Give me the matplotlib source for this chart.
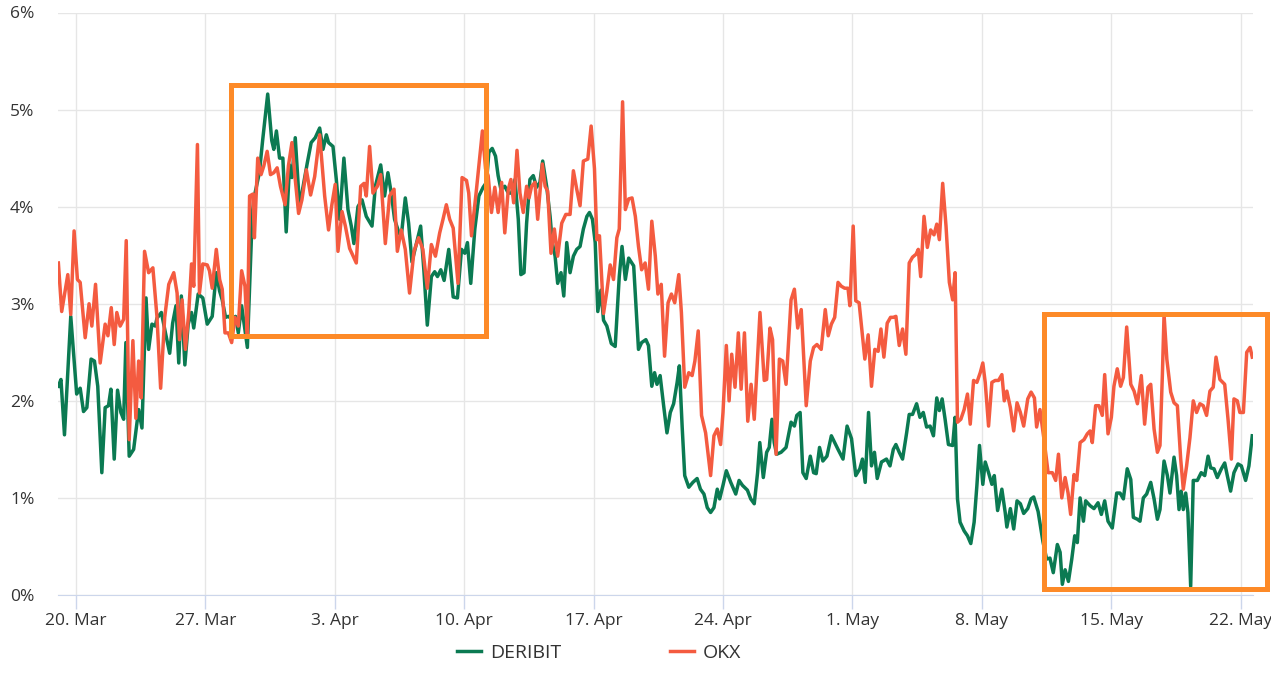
import matplotlib
matplotlib.use("Agg")
import matplotlib.pyplot as plt
from matplotlib.patches import Rectangle

plt.rcParams['font.family'] = ['Open Sans', 'DejaVu Sans']

# x = days since 20 Mar, y = value in %
deribit_day = [
    -0.94, -0.8, -0.61, -0.27, 0.05, 0.24, 0.42, 0.6, 0.83, 1.01, 1.19, 1.41, 1.59, 1.77, 1.9,
    2.08, 2.26, 2.44, 2.59, 2.71, 2.89, 3.13, 3.4, 3.58, 3.8, 3.94, 4.12, 4.3, 4.39, 4.63,
    4.85, 5.08, 5.24, 5.42, 5.57, 5.71, 5.9, 6.08, 6.26, 6.38, 6.62, 6.87, 7.11, 7.38, 7.6,
    7.78, 7.92, 8.1, 8.25, 8.46, 8.64, 8.79, 8.97, 9.28, 9.55,
    9.66, 9.93, 10.11, 10.38, 10.6, 10.71, 10.85, 11.02, 11.2, 11.38, 11.56, 11.69, 11.87, 12.1,
    12.34, 12.52, 12.73, 12.95, 13.19, 13.37, 13.55, 13.67, 13.91, 14.09, 14.27, 14.5, 14.72,
    14.9, 15.04, 15.26, 15.48, 15.71, 16.02, 16.2, 16.49, 16.7, 16.88, 17.06, 17.24, 17.46,
    17.6, 17.82, 18.0, 18.18, 18.42, 18.65, 18.83, 19.01, 19.23, 19.41, 19.56, 19.74, 19.92,
    20.17, 20.41,
    20.64, 20.86, 21.04, 21.18, 21.36, 21.58, 21.8, 22.03, 22.21, 22.34, 22.52, 22.7, 22.84,
    22.99, 23.2, 23.39, 23.57, 23.75, 23.93, 24.07, 24.24, 24.38, 24.56, 24.74, 24.92, 25.1,
    25.25, 25.47, 25.65, 25.77, 25.92, 26.06, 26.24, 26.39, 26.55, 26.73, 26.91, 27.09, 27.27,
    27.45, 27.64, 27.78, 27.94, 28.09, 28.23, 28.4, 28.54, 28.72, 28.96, 29.17, 29.39, 29.54,
    29.72, 29.9, 30.17,
    30.43, 30.6, 30.83, 30.97, 31.15, 31.3, 31.43, 31.6, 31.79, 31.97, 32.15, 32.33, 32.52,
    32.64, 32.79, 32.93, 33.15, 33.37, 33.6, 33.78, 33.97, 34.15, 34.33, 34.51, 34.69, 34.82,
    35.0, 35.18, 35.42, 35.69, 35.87, 36.05, 36.32, 36.5, 36.69, 36.87, 36.99, 37.18, 37.36,
    37.5, 37.65, 37.77, 37.9, 38.14, 38.41, 38.68, 38.86, 38.99, 39.17, 39.32, 39.5, 39.72,
    39.9, 40.04, 40.22, 40.4, 40.62, 40.86, 41.04, 41.22,
    41.49, 41.71, 41.95, 42.18, 42.4, 42.54, 42.69, 42.87, 43.03, 43.19, 43.34, 43.57, 43.84,
    44.03, 44.21, 44.35, 44.53, 44.71, 44.93, 45.07, 45.25, 45.47, 45.65, 45.83, 46.01, 46.2,
    46.38, 46.56, 46.7, 46.85, 47.01, 47.19, 47.42, 47.55, 47.68, 47.82, 48.04, 48.22, 48.4,
    48.58, 48.73, 48.87, 49.05, 49.18, 49.36, 49.54, 49.67, 49.85, 50.08, 50.26, 50.35, 50.54,
    50.72, 50.9, 51.08, 51.26, 51.48, 51.66, 51.8,
    52.04, 52.3, 52.5, 52.68, 52.86, 53.08, 53.23, 53.35, 53.5, 53.68, 53.86, 54.02, 54.16,
    54.31, 54.49, 54.61, 54.85, 55.06, 55.28, 55.46, 55.64, 55.82, 56.05, 56.29, 56.47, 56.65,
    56.86, 57.05, 57.19, 57.41, 57.55, 57.73, 57.91, 58.13, 58.31, 58.49, 58.63, 58.85, 59.03,
    59.17, 59.39, 59.53, 59.66, 59.78, 59.89, 60.02, 60.14, 60.29, 60.43, 60.65, 60.86, 61.05,
    61.23, 61.37, 61.55, 61.73, 61.95, 62.13, 62.27, 62.45, 62.63, 62.85, 63.03, 63.26, 63.44,
    63.62,
]
deribit_pct = [
    2.15, 2.22, 1.65, 2.87, 2.07, 2.13, 1.89, 1.93, 2.43, 2.41, 2.15, 1.26, 1.93, 1.95, 2.12,
    1.40, 2.11, 1.88, 1.81, 2.60, 1.43, 1.50, 1.91, 1.72, 3.06, 2.53, 2.79, 2.77, 2.85, 2.91,
    2.70, 2.49, 2.80, 2.98, 2.39, 3.08, 2.37, 2.79, 2.91, 2.75, 3.10, 3.06, 2.79, 2.87, 3.32,
    3.13, 3.04, 2.86, 2.87, 2.84, 2.87, 2.70, 2.98, 2.55, 3.94,
    4.11, 4.35, 4.69, 5.16, 4.68, 4.59, 4.78, 4.50, 4.50, 3.74, 4.43, 4.30, 4.71, 4.00,
    4.26, 4.45, 4.66, 4.71, 4.81, 4.59, 4.74, 4.66, 4.62, 4.28, 3.87, 4.50, 3.97,
    3.80, 3.62, 4.00, 4.07, 3.90, 3.80, 4.21, 4.43, 4.11, 4.35, 4.14, 3.87, 3.74,
    3.69, 4.09, 3.83, 3.43, 3.62, 3.80, 3.33, 2.78, 3.28, 3.33, 3.28, 3.35, 3.24,
    3.56, 3.07,
    3.06, 3.56, 3.52, 3.63, 3.21, 3.77, 4.11, 4.20, 4.25, 4.56, 4.60, 4.52, 4.32,
    4.18, 4.21, 4.14, 4.14, 4.28, 3.87, 3.30, 3.32, 3.83, 4.28, 4.32, 4.20, 4.25,
    4.47, 4.20, 3.90, 3.63, 3.49, 3.21, 3.32, 3.08, 3.63, 3.32, 3.49, 3.56, 3.59,
    3.77, 3.90, 3.94, 3.87, 3.63, 2.92, 3.14, 2.83, 2.77, 2.59, 2.56, 3.28, 3.59,
    3.25, 3.47, 3.39,
    2.53, 2.60, 2.63, 2.57, 2.15, 2.29, 2.17, 2.26, 1.95, 1.67, 1.88, 1.97, 2.19,
    2.36, 1.74, 1.23, 1.11, 1.16, 1.20, 1.09, 1.04, 0.90, 0.85, 0.90, 1.09, 0.99,
    1.13, 1.28, 1.16, 1.04, 1.18, 1.13, 1.08, 0.99, 0.94, 1.26, 1.57, 1.21, 1.47,
    1.52, 1.81, 1.57, 1.45, 1.47, 1.52, 1.78, 1.74, 1.85, 1.88, 1.26, 1.20, 1.43,
    1.26, 1.25, 1.52, 1.38, 1.43, 1.64, 1.57, 1.50,
    1.40, 1.74, 1.61, 1.23, 1.30, 1.40, 1.16, 1.88, 1.33, 1.47, 1.20, 1.37, 1.40,
    1.33, 1.50, 1.55, 1.47, 1.40, 1.67, 1.86, 1.86, 1.97, 1.83, 1.88, 1.73, 1.74,
    1.64, 2.03, 1.90, 2.02, 1.81, 1.55, 1.54, 1.83, 0.99, 0.75, 0.66, 0.61, 0.53,
    0.75, 1.13, 1.54, 1.14, 1.37, 1.26, 1.14, 1.23, 0.87, 1.09, 0.85, 0.70, 0.89,
    0.68, 0.97, 0.94, 0.84, 0.89, 0.99, 1.01,
    0.86, 0.55, 0.37, 0.38, 0.23, 0.52, 0.44, 0.11, 0.26, 0.14, 0.37, 0.61, 0.54,
    1.00, 0.76, 0.97, 0.92, 0.89, 0.95, 0.83, 0.97, 0.76, 0.69, 1.05, 1.05, 0.99,
    1.30, 1.19, 0.80, 0.78, 0.76, 1.00, 1.04, 1.16, 0.99, 0.78, 0.88, 1.38, 1.23,
    1.05, 1.42, 1.23, 0.88, 1.07, 0.88, 1.05, 0.85, 0.09, 1.18, 1.18, 1.26, 1.23,
    1.43, 1.31, 1.30, 1.21, 1.30, 1.36, 1.23, 1.07, 1.26, 1.35, 1.33, 1.18, 1.33,
    1.64,
]

okx_day = [
    -0.94, -0.76, -0.43, -0.27, -0.09, 0.09, 0.24, 0.51, 0.72, 0.87, 1.07, 1.32, 1.59, 1.74,
    1.92, 2.08, 2.22, 2.4, 2.59, 2.73, 2.89, 3.09, 3.25, 3.4, 3.54, 3.72, 3.94, 4.17, 4.39,
    4.59, 4.81, 5.03, 5.3, 5.48, 5.61, 5.75, 5.93, 6.11, 6.26, 6.38, 6.58, 6.69, 6.87, 7.11,
    7.23, 7.38, 7.6, 7.78, 7.92, 8.07, 8.25, 8.43, 8.61, 8.79, 8.97, 9.15, 9.28, 9.4, 9.58,
    9.66, 9.84, 10.02, 10.17, 10.35, 10.53, 10.71, 10.89, 11.07, 11.32, 11.5, 11.69, 11.87,
    12.05, 12.23, 12.47, 12.7, 12.92, 13.19, 13.46, 13.67, 13.85, 14.03, 14.18, 14.4, 14.58,
    14.81, 15.17, 15.41, 15.59, 15.71, 15.89, 16.07, 16.31, 16.49, 16.74, 16.97, 17.21, 17.39,
    17.6, 17.82, 18.05, 18.29, 18.54, 18.77, 19.01, 19.23, 19.45, 19.68, 19.86, 20.04, 20.22,
    20.41,
    20.67, 20.89, 21.13, 21.25, 21.4, 21.67, 21.85, 21.99, 22.16, 22.3, 22.48, 22.66, 22.84,
    23.03, 23.2, 23.39, 23.53, 23.68, 23.86, 24.02, 24.2, 24.38, 24.51, 24.65, 24.83, 24.98,
    25.23, 25.38, 25.52, 25.7, 25.88, 26.06, 26.28, 26.5, 26.73, 26.91, 27.09, 27.27, 27.45,
    27.69, 27.87, 28.05, 28.18, 28.32, 28.54, 28.72, 28.9, 29.08, 29.26, 29.39, 29.57, 29.72,
    29.9, 30.08, 30.26,
    30.43, 30.6, 30.79, 30.97, 31.15, 31.34, 31.48, 31.66, 31.84, 32.03, 32.21, 32.39, 32.61,
    32.75, 32.93, 33.15, 33.33, 33.48, 33.66, 33.84, 34.06, 34.33, 34.51, 34.69, 34.87, 35.0,
    35.18, 35.33, 35.47, 35.65, 35.83, 35.98, 36.16, 36.34, 36.52, 36.69, 37.0, 37.23, 37.36,
    37.54, 37.68, 37.87, 38.05, 38.23, 38.41, 38.68, 38.86, 39.04, 39.23, 39.5, 39.72, 39.9,
    40.08, 40.31, 40.53, 40.69, 40.86, 41.04, 41.22,
    41.4, 41.58, 41.76, 41.86, 42.04, 42.18, 42.36, 42.49, 42.67, 42.85, 43.03, 43.21, 43.39,
    43.54, 43.7, 43.88, 44.06, 44.21, 44.35, 44.53, 44.71, 44.89, 45.07, 45.25, 45.44, 45.56,
    45.69, 45.87, 46.05, 46.23, 46.41, 46.56, 46.7, 46.88, 47.06, 47.24, 47.42, 47.55, 47.68,
    47.86, 48.04, 48.22, 48.37, 48.55, 48.73, 48.91, 49.05, 49.18, 49.36, 49.54, 49.72, 49.9,
    50.08, 50.21, 50.35, 50.54, 50.72, 50.9, 51.08, 51.26, 51.48, 51.66, 51.84,
    51.96, 52.14, 52.36, 52.58, 52.81, 52.99, 53.14, 53.32, 53.5, 53.66, 53.8, 53.98, 54.13,
    54.31, 54.52, 54.7, 54.85, 54.97, 55.15, 55.33, 55.51, 55.64, 55.82, 56.0, 56.14, 56.32,
    56.5, 56.65, 56.83, 57.05, 57.23, 57.41, 57.62, 57.8, 57.98, 58.13, 58.31, 58.49, 58.63,
    58.76, 58.85, 59.0, 59.21, 59.39, 59.57, 59.75, 59.89, 60.07, 60.25, 60.43, 60.61, 60.79,
    60.97, 61.15, 61.33, 61.51, 61.66, 61.87, 62.13, 62.31, 62.49, 62.63, 62.81, 62.95, 63.14,
    63.32, 63.5, 63.62,
]
okx_pct = [
    3.42, 2.92, 3.30, 2.89, 3.75, 3.25, 3.22, 2.65, 3.00, 2.77, 3.20, 2.39, 2.79, 2.67,
    2.96, 2.58, 2.91, 2.77, 2.84, 3.65, 1.60, 2.62, 1.82, 2.41, 2.03, 3.54, 3.32, 3.37, 2.87,
    2.13, 2.86, 3.20, 3.32, 3.11, 2.63, 3.04, 2.53, 2.91, 3.41, 3.18, 4.64, 3.11, 3.41, 3.40,
    3.34, 3.16, 3.56, 3.25, 3.15, 2.70, 2.70, 2.60, 2.86, 2.77, 3.34, 3.18, 2.67, 4.11, 4.13,
    3.68, 4.50, 4.33, 4.42, 4.57, 4.33, 4.35, 4.40, 4.21, 4.02, 4.42, 4.66, 4.28,
    3.93, 4.07, 4.38, 4.12, 4.31, 4.74, 4.11, 3.76, 4.02, 4.23, 3.54, 3.95, 3.80,
    3.57, 3.42, 4.21, 4.24, 4.11, 4.62, 4.14, 4.21, 4.33, 3.62, 4.11, 4.18, 3.54,
    3.76, 3.56, 3.11, 3.54, 3.68, 3.56, 3.16, 3.61, 3.49, 3.73, 3.87, 4.02, 3.87,
    3.78,
    3.21, 4.30, 4.27, 4.14, 3.70, 4.18, 4.52, 4.78, 4.39, 4.32, 3.94, 4.20, 3.94,
    4.25, 3.73, 4.18, 4.28, 4.04, 4.58, 4.14, 3.94, 4.21, 4.09, 4.21, 4.25, 3.87,
    4.44, 4.21, 4.16, 3.52, 3.77, 3.49, 3.83, 3.92, 3.92, 4.37, 4.18, 4.01, 4.47,
    4.49, 4.83, 4.39, 3.66, 3.70, 2.90, 3.13, 3.40, 3.25, 3.68, 3.77, 5.08, 3.97,
    4.08, 4.09, 3.90,
    3.59, 3.35, 3.42, 3.15, 3.85, 3.49, 3.10, 3.20, 2.46, 3.01, 3.10, 3.01, 3.30,
    2.91, 2.14, 2.29, 2.26, 2.41, 2.72, 1.85, 1.67, 1.23, 1.64, 1.71, 1.55, 1.88,
    2.57, 2.00, 2.48, 2.14, 2.70, 2.12, 2.70, 1.79, 2.17, 1.81, 2.91, 2.21, 2.22,
    2.75, 2.63, 1.45, 2.43, 2.41, 2.17, 3.04, 3.15, 2.75, 2.94, 1.95, 2.41, 2.55,
    2.58, 2.53, 2.94, 2.67, 2.79, 2.86, 3.22,
    3.18, 3.16, 3.16, 2.98, 3.80, 3.03, 3.01, 2.77, 2.43, 2.68, 2.15, 2.53, 2.51,
    2.74, 2.45, 2.80, 2.86, 2.86, 2.87, 2.57, 2.74, 2.48, 3.42, 3.48, 3.51, 3.56,
    3.28, 3.90, 3.58, 3.76, 3.71, 3.82, 3.66, 4.24, 3.80, 3.22, 3.04, 3.32, 1.78,
    1.81, 1.91, 2.07, 1.76, 2.21, 2.19, 2.29, 2.39, 2.19, 1.74, 2.19, 2.21, 2.21,
    2.27, 2.00, 2.10, 1.93, 1.69, 1.98, 1.88, 1.74, 2.02, 2.09, 2.03,
    1.73, 1.91, 1.60, 1.26, 1.26, 1.18, 1.45, 1.00, 1.21, 1.05, 0.83, 1.24, 1.18,
    1.57, 1.60, 1.66, 1.69, 1.57, 1.95, 1.95, 1.85, 2.27, 1.66, 1.83, 2.15, 2.33,
    2.15, 2.24, 2.76, 2.17, 2.10, 1.97, 2.26, 1.76, 2.14, 2.17, 1.71, 1.47, 1.54,
    2.27, 2.89, 2.43, 2.09, 1.98, 1.95, 1.40, 1.09, 1.33, 1.62, 2.00, 1.88, 1.97,
    1.95, 1.85, 2.10, 2.14, 2.45, 2.22, 2.17, 1.81, 1.40, 2.02, 2.00, 1.88, 1.88,
    2.50, 2.55, 2.45,
]

week_day = [0, 7, 14, 21, 28, 35, 42, 49, 56, 63]
week_labels = ["20. Mar", "27. Mar", "3. Apr", "10. Apr", "17. Apr",
               "24. Apr", "1. May", "8. May", "15. May", "22. May"]
pct_ticks = [0, 1, 2, 3, 4, 5, 6]

W, H = 1271, 677
fig = plt.figure(figsize=(W / 100, H / 100), dpi=100)
ax = fig.add_axes([58 / W, (H - 595) / H, (1253 - 58) / W, (595 - 12.5) / H])

ax.plot(deribit_day, deribit_pct, color='#0b7a52', lw=2.5, solid_joinstyle='round', label='DERIBIT', zorder=3)
ax.plot(okx_day, okx_pct, color='#f45b40', lw=2.5, solid_joinstyle='round', label='OKX', zorder=4)

ax.set_xlim(-0.96, 63.66)
ax.set_ylim(0, 6)
ax.set_xticks(week_day)
ax.set_xticklabels(week_labels)
ax.set_yticks(pct_ticks)
ax.set_yticklabels([f"{p}%" for p in pct_ticks])

ax.grid(True, color='#e6e6e6', linewidth=1)
ax.set_axisbelow(True)
for s in ['top', 'right', 'left']:
    ax.spines[s].set_visible(False)
ax.spines['bottom'].set_color('#ccd6eb')
ax.tick_params(axis='x', length=10, width=1, color='#ccd6eb', labelsize=12.5, labelcolor='#333333', pad=3)
ax.tick_params(axis='y', length=0, labelsize=12.5, labelcolor='#333333', pad=17)

# orange highlight boxes
for x0, x1, y0, y1 in [(8.42, 22.18, 2.67, 5.25), (52.37, 64.42, 0.057, 2.89)]:
    ax.add_patch(Rectangle((x0, y0), x1 - x0, y1 - y0, fill=False, edgecolor='#fd8a28',
                           lw=3.6, joinstyle='miter', clip_on=False, zorder=6))

fig.legend(loc='center', bbox_to_anchor=(599 / W, (H - 653) / H), ncol=2, frameon=False,
           fontsize=14, handlelength=1.25, handletextpad=0.45, columnspacing=5.6,
           labelcolor='#333333')

fig.savefig('out.png', dpi=100)
